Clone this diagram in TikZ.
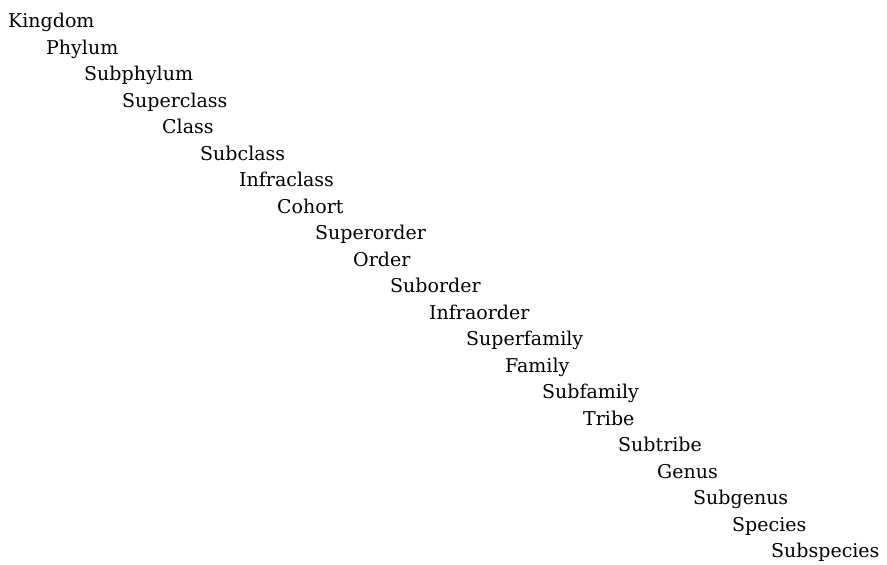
\documentclass[tikz,border=0pt]{standalone}
\usepackage{fontspec}
\setmainfont{DejaVu Serif}
\begin{document}
\begin{tikzpicture}[x=1pt,y=1pt,
  rank/.style={anchor=base west, inner sep=0pt, font=\fontsize{19}{23}\selectfont}]
\useasboundingbox (0,0) rectangle (887,565);
\foreach \name/\xx [count=\i from 0] in {Kingdom/8, Phylum/46, Subphylum/84, Superclass/122, Class/162, Subclass/200, Infraclass/239, Cohort/277, Superorder/315, Order/353, Suborder/390, Infraorder/429, Superfamily/466, Family/505, Subfamily/542, Tribe/583, Subtribe/618, Genus/657, Subgenus/693, Species/732, Subspecies/771}
  \node[rank] (n\i) at (\xx, {565-28-26.5*\i}) {\name};
\end{tikzpicture}
\end{document}
